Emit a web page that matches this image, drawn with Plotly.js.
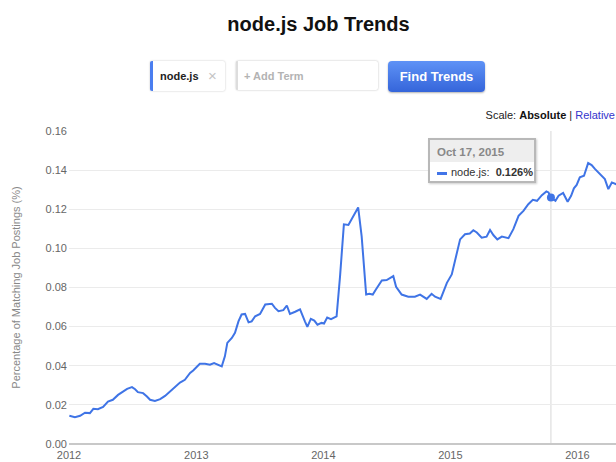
<!DOCTYPE html>
<html>
<head>
<meta charset="utf-8">
<script src="https://cdn.plot.ly/plotly-3.0.1.min.js"></script>
<style>
  html, body { margin: 0; padding: 0; background: #fff; width: 616px; height: 462px; overflow: hidden; }
  body { font-family: "Liberation Sans", Arial, Helvetica, sans-serif; position: relative; }
  #chart { position: absolute; left: 0; top: 0; width: 616px; height: 462px; }
  .ui { position: absolute; box-sizing: border-box; }
  #term { left: 150px; top: 61px; width: 75px; height: 30px; background: #fff; border-left: 3px solid #4a7ef0;
          box-shadow: 0 0 2px rgba(0,0,0,0.25); border-radius: 2px; font-size: 11px; font-weight: bold; color: #222; }
  #term .t { position: absolute; left: 7px; top: 9px; }
  #term .x { position: absolute; left: 55px; top: 6px; color: #c4c4c4; font-weight: normal; font-size: 15px; }
  #add { left: 236px; top: 61px; width: 142px; height: 29px; background: #fff; box-shadow: 0 0 2px rgba(0,0,0,0.3);
         border-left: 2px solid #ddd; border-radius: 2px; font-size: 11px; color: #b3b3b3; font-weight: bold; }
  #add span { position: absolute; left: 6px; top: 9px; }
  #btn { left: 388px; top: 61px; width: 97px; height: 31px; border-radius: 4px; color: #fff; font-weight: bold; font-size: 13px;
         background: linear-gradient(#5e92f6, #3565da); box-shadow: 0 1px 2px rgba(0,0,0,0.3); text-align: center; line-height: 31px; }
  #scale { right: 1px; top: 109px; font-size: 11px; color: #222; white-space: nowrap; }
  #scale b { color: #111; }
  #scale .rel { color: #3333cc; }
  #tip { left: 428px; top: 138px; width: 108px; height: 45px; background: #fff; border: 2px solid #b8b8b8;
         box-shadow: 1px 1px 2px rgba(0,0,0,0.2); font-size: 11px; }
  #tip .hd { position: absolute; left: 0; top: 0; width: 104px; height: 22px; background: #eee; color: #888; font-weight: bold; }
  #tip .hd span { position: absolute; left: 7px; top: 6px; font-size: 11.5px; }
  #tip .row { position: absolute; left: 7px; top: 26px; color: #333; white-space: nowrap; }
  #tip .sw { display: inline-block; width: 10px; height: 3px; background: #4275e8; vertical-align: middle; margin-right: 4px; }
</style>
</head>
<body>
<div id="chart"></div>
<div class="ui" id="term"><span class="t">node.js</span><span class="x">×</span></div>
<div class="ui" id="add"><span>+ Add Term</span></div>
<div class="ui" id="btn">Find Trends</div>
<div class="ui" id="scale">Scale: <b>Absolute</b> | <span class="rel">Relative</span></div>
<div class="ui" id="tip"><div class="hd"><span>Oct 17, 2015</span></div><div class="row"><span class="sw"></span>node.js:&nbsp; <b>0.126%</b></div></div>
<script>
const dates = [
  "2012-01-02","2012-01-09","2012-01-18","2012-02-02","2012-02-16","2012-03-01","2012-03-11","2012-03-24",
  "2012-04-08","2012-04-22","2012-05-06","2012-05-21","2012-06-04","2012-06-16","2012-06-30","2012-07-09",
  "2012-07-17","2012-08-01","2012-08-12","2012-08-21","2012-09-04","2012-09-19","2012-10-03","2012-10-17",
  "2012-11-01","2012-11-15","2012-11-29","2012-12-14","2012-12-23",
  "2013-01-11","2013-01-26","2013-02-09","2013-02-21","2013-03-07","2013-03-15","2013-03-24","2013-03-31",
  "2013-04-13","2013-04-22","2013-05-02","2013-05-11","2013-05-21","2013-05-31","2013-06-09","2013-06-19",
  "2013-07-03","2013-07-18","2013-08-06","2013-08-15","2013-08-25","2013-09-08","2013-09-18","2013-09-27",
  "2013-10-12","2013-10-26","2013-11-09","2013-11-16","2013-11-26","2013-12-06","2013-12-15","2013-12-27",
  "2014-01-03","2014-01-12","2014-01-23","2014-02-08","2014-02-18","2014-03-01","2014-03-14","2014-03-23",
  "2014-04-02","2014-04-11","2014-04-21","2014-04-28","2014-05-04","2014-05-13","2014-05-23","2014-06-01",
  "2014-06-18","2014-07-02","2014-07-21","2014-07-29","2014-08-14","2014-09-02","2014-09-21","2014-10-06",
  "2014-10-25","2014-11-08","2014-11-18","2014-12-04","2014-12-22",
  "2015-01-05","2015-01-17","2015-01-29","2015-02-12","2015-02-26","2015-03-08","2015-03-18","2015-04-01",
  "2015-04-15","2015-04-25","2015-05-05","2015-05-16","2015-05-29","2015-06-17","2015-07-01","2015-07-16",
  "2015-07-30","2015-08-13","2015-08-26","2015-09-07","2015-09-21","2015-10-04","2015-10-10","2015-10-17",
  "2015-10-30","2015-11-08","2015-11-21","2015-12-04","2015-12-14","2015-12-22","2015-12-30",
  "2016-01-08","2016-01-20","2016-02-01","2016-02-11","2016-02-21","2016-03-01","2016-03-11","2016-03-20",
  "2016-03-30","2016-04-09","2016-04-21","2016-04-30"
];
const nodejs = [
  0.0144,0.0142,0.0137,0.0144,0.0160,0.0158,0.0180,0.0178,
  0.0190,0.0217,0.0226,0.0251,0.0268,0.0282,0.0291,0.0280,
  0.0265,0.0260,0.0243,0.0226,0.0220,0.0229,0.0246,0.0268,
  0.0294,0.0314,0.0328,0.0363,0.0376,
  0.0410,0.0410,0.0405,0.0414,0.0405,0.0397,0.0448,0.0517,
  0.0542,0.0568,0.0627,0.0662,0.0665,0.0622,0.0627,0.0653,
  0.0665,0.0713,0.0717,0.0696,0.0679,0.0684,0.0708,0.0665,
  0.0676,0.0688,0.0627,0.0599,0.0640,0.0631,0.0610,0.0619,
  0.0616,0.0646,0.0638,0.0652,0.0858,0.1123,0.1120,0.1149,
  0.1187,0.1209,0.1063,0.0910,0.0764,0.0768,0.0764,0.0790,
  0.0836,0.0838,0.0858,0.0804,0.0764,0.0753,0.0753,0.0764,
  0.0742,0.0768,0.0753,0.0742,0.0824,
  0.0867,0.0960,0.1046,0.1072,0.1076,0.1093,0.1081,0.1055,
  0.1060,0.1094,0.1067,0.1046,0.1060,0.1052,0.1098,0.1166,
  0.1192,0.1226,0.1248,0.1243,0.1272,0.1291,0.1286,0.1260,
  0.1243,0.1269,0.1283,0.1238,0.1269,0.1307,0.1324,
  0.1363,0.1371,0.1436,0.1426,0.1405,0.1388,0.1374,0.1354,
  0.1303,0.1337,0.1328,0.1330
];
const hoverDate = ["2015-10-17"];
const hoverValue = [0.126];
const yTicks = [0, 0.02, 0.04, 0.06, 0.08, 0.10, 0.12, 0.14, 0.16];
const yTickText = ["0.00","0.02","0.04","0.06","0.08","0.10","0.12","0.14","0.16"];
const xTicks = ["2012-01-01","2013-01-01","2014-01-01","2015-01-01","2016-01-01"];
const xTickText = ["2012","2013","2014","2015","2016"];

const blue = "#3f74e6";
const traces = [
  { x: dates, y: nodejs, type: "scatter", mode: "lines", line: { color: blue, width: 2 }, hoverinfo: "skip" },
  { x: hoverDate, y: hoverValue, type: "scatter", mode: "markers", marker: { color: blue, size: 8 }, hoverinfo: "skip" }
];
const layout = {
  width: 616, height: 462,
  margin: { l: 69, r: 0, t: 131, b: 18 },
  paper_bgcolor: "#fff", plot_bgcolor: "#fff",
  showlegend: false,
  font: { family: "Liberation Sans, Arial, Helvetica, sans-serif", size: 11, color: "#666" },
  title: { text: "<b>node.js Job Trends</b>", x: 318.5 / 616, xref: "container", xanchor: "center", y: 0.947, yanchor: "middle",
           font: { size: 20, color: "#111", family: "Liberation Sans, Arial, Helvetica, sans-serif" } },
  xaxis: {
    type: "date", range: ["2012-01-01", "2016-04-21"],
    tickvals: xTicks, ticktext: xTickText, showgrid: false, zeroline: false,
    showline: false, ticks: "", ticklabelstandoff: 3, tickfont: { size: 11, color: "#666" }, fixedrange: true
  },
  yaxis: {
    range: [0, 0.16], tickvals: yTicks, ticktext: yTickText,
    showgrid: true, gridcolor: "#ebebeb", gridwidth: 1, zeroline: true, zerolinecolor: "#c8c8c8", zerolinewidth: 1.5,
    ticks: "", ticklabelstandoff: 1, tickfont: { size: 11, color: "#666" },
    title: { text: "Percentage of Matching Job Postings (%)", font: { size: 11, color: "#888" }, standoff: 22 },
    fixedrange: true
  },
  shapes: [
    { type: "line", xref: "x", yref: "paper", x0: hoverDate[0], x1: hoverDate[0], y0: 0, y1: 1,
      line: { color: "#d8d8d8", width: 1 }, layer: "below" }
  ]
};
Plotly.newPlot("chart", traces, layout, { displayModeBar: false, staticPlot: true });
</script>
</body>
</html>
